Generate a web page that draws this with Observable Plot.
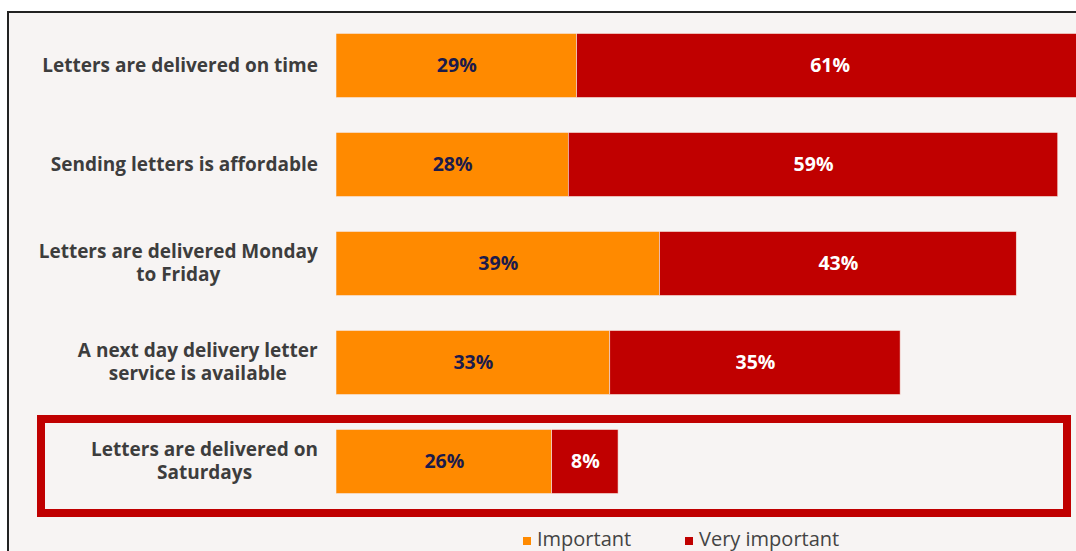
<!DOCTYPE html>
<html>
<head>
<meta charset="utf-8">
<script src="https://cdn.jsdelivr.net/npm/d3@7"></script>
<script src="https://cdn.jsdelivr.net/npm/@observablehq/plot@0.6"></script>
<style>
  html, body { margin: 0; padding: 0; background: #ffffff; overflow: hidden; }
  #wrap { position: relative; width: 1076px; height: 551px; background: #ffffff; overflow: hidden; }
  #panel { position: absolute; left: 7px; top: 11px; width: 1080px; height: 560px;
           border-left: 2px solid #222; border-top: 2px solid #222; background: #f7f4f3; }
  #chart { position: absolute; left: 0; top: 0; }
  #highlight { position: absolute; left: 37px; top: 415px; width: 1034px; height: 102px;
               box-sizing: border-box; border: 8px solid #c00000; }
  #legend { position: absolute; top: 525px; left: 0; width: 1076px; height: 26px;
            font-family: "Open Sans", sans-serif; font-size: 20px; color: #444; }
  .li { position: absolute; top: 0; white-space: nowrap; }
  .sw { display: inline-block; width: 8px; height: 8px; margin-right: 6px; vertical-align: 1px; }
</style>
</head>
<body>
<div id="wrap">
  <div id="panel"></div>
  <div id="chart"></div>
  <div id="highlight"></div>
  <div id="legend"></div>
</div>
<script>
const categories = [
  "Letters are delivered on time",
  "Sending letters is affordable",
  "Letters are delivered Monday\nto Friday",
  "A next day delivery letter\nservice is available",
  "Letters are delivered on\nSaturdays"
];
const seriesNames = ["Important", "Very important"];
const important = [29, 28, 39, 33, 26];
const veryImportant = [61, 59, 43, 35, 8];
const seriesColors = ["#ff8a00", "#c00000"];
const labelColors = ["#1b1b4b", "#ffffff"];

const rows = [];
categories.forEach((c, i) => {
  rows.push({cat: c, series: seriesNames[0], value: important[i]});
  rows.push({cat: c, series: seriesNames[1], value: veryImportant[i]});
});
const fontFam = "'Open Sans', sans-serif";

const plot = Plot.plot({
  width: 1076,
  height: 551,
  marginLeft: 336,
  marginRight: 0,
  marginTop: 15.5,
  marginBottom: 40.5,
  style: {background: "transparent", fontFamily: fontFam, overflow: "hidden"},
  x: {domain: [0, 89.2], axis: null},
  y: {domain: categories, padding: 0, axis: null},
  color: {domain: seriesNames, range: seriesColors},
  marks: [
    Plot.barX(rows, Plot.stackX({x: "value", y: "cat", fill: "series", insetTop: 17.5, insetBottom: 17.5,
      stroke: "#f7e6e0", strokeWidth: 0.6, clip: true})),
    Plot.text(categories, {y: d => d, x: 0, text: d => d, textAnchor: "middle", dx: -150,
      fontSize: 19, fontWeight: 700, fill: "#3d3d3d", lineHeight: 1.25, dy: -2}),
    Plot.text(rows.filter(d => d.series === seriesNames[0]), Plot.stackX({x: "value", y: "cat", text: d => d.value + "%",
      fill: labelColors[0], fontSize: 19.5, fontWeight: 700})),
    Plot.text(rows, Plot.stackX({x: "value", y: "cat", text: d => d.series === seriesNames[1] ? d.value + "%" : "",
      fill: labelColors[1], fontSize: 19.5, fontWeight: 700}))
  ]
});
document.getElementById("chart").appendChild(plot);

// right-align each category label block at x = 318, keeping lines centered within the block
const svgRect = plot.getBoundingClientRect();
const groups = plot.querySelectorAll('g[aria-label="text"]');
if (groups.length) {
  groups[0].querySelectorAll("text").forEach(el => {
    const r = el.getBoundingClientRect();
    const right = r.right - svgRect.left;
    const shift = 318 - right;
    el.setAttribute("transform", (el.getAttribute("transform") || "") + ` translate(${shift},0)`);
  });
}

// legend
const legend = document.getElementById("legend");
const legendX = [523, 685];
seriesNames.forEach((s, i) => {
  const item = document.createElement("div");
  item.className = "li";
  item.style.left = legendX[i] + "px";
  const sw = document.createElement("span");
  sw.className = "sw";
  sw.style.background = seriesColors[i];
  item.appendChild(sw);
  item.appendChild(document.createTextNode(s));
  legend.appendChild(item);
});
</script>
</body>
</html>
